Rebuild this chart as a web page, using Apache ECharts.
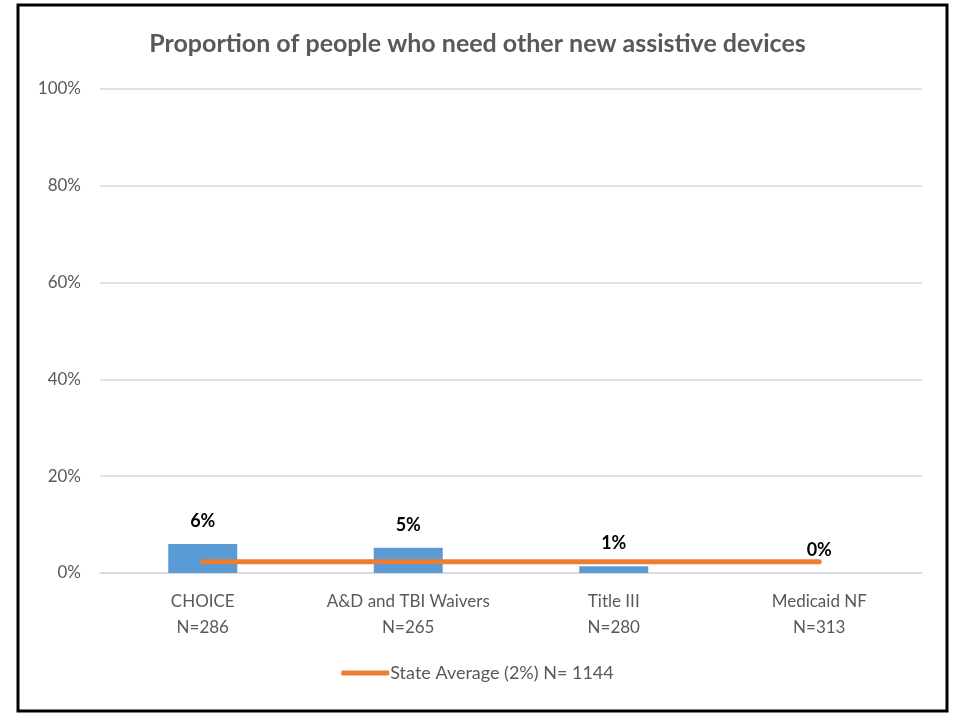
<!DOCTYPE html>
<html><head><meta charset="utf-8">
<script src="https://cdn.jsdelivr.net/npm/echarts@6/dist/echarts.min.js"></script>
<style>html,body{margin:0;padding:0;background:#fff}#c{width:955px;height:713px}</style>
</head><body><div id="c"></div>
<script>
const categories = ["CHOICE\nN=286", "A&D and TBI Waivers\nN=265", "Title III\nN=280", "Medicaid NF\nN=313"];
const programValues = [6.0, 5.2, 1.4, 0.0];
const stateAverage = [2.3, 2.3, 2.3, 2.3];
const stateAverageName = "State Average (2%) N= 1144";
const titleText = "Proportion of people who need other new assistive devices";
const font = "Lato";

const chart = echarts.init(document.getElementById('c'), null, {renderer: 'canvas'});
chart.setOption({
  backgroundColor: '#fff',
  animation: false,
  graphic: [{
    type: 'rect', shape: {x: 18, y: 5, width: 929, height: 706},
    style: {fill: 'none', stroke: '#000', lineWidth: 3}, z: 100
  }],
  title: {
    text: titleText, left: 'center', top: 26,
    textStyle: {fontFamily: font, fontSize: 25, fontWeight: 'bold', color: '#595959'}
  },
  legend: {
    bottom: 26, left: 'center',
    data: [{name: stateAverageName, icon: 'roundRect'}],
    itemWidth: 48, itemHeight: 5, itemGap: 0,
    textStyle: {fontFamily: font, fontSize: 18, color: '#595959', padding: [0,0,0,-4]}
  },
  grid: {left: 100, right: 33, top: 89, bottom: 140, containLabel: false},
  xAxis: {
    type: 'category', data: categories,
    axisLine: {show: true, lineStyle: {color: '#d9d9d9', width: 1.5}},
    axisTick: {show: false},
    axisLabel: {interval: 0, fontFamily: font, fontSize: 17, color: '#595959', lineHeight: 26, margin: 16}
  },
  yAxis: {
    type: 'value', min: 0, max: 100, interval: 20,
    axisLine: {show: false}, axisTick: {show: false},
    splitLine: {lineStyle: {color: '#d9d9d9', width: 1.5}},
    axisLabel: {fontFamily: font, fontSize: 17, color: '#595959', formatter: '{value}%', margin: 19}
  },
  series: [
    {
      type: 'bar', name: 'Programs', data: programValues, barWidth: 69,
      itemStyle: {color: '#5b9bd5'},
      label: {
        show: true, position: 'top', distance: 14,
        fontFamily: font, fontSize: 18, fontWeight: 'bold', color: '#000',
        formatter: p => Math.round(p.value) + '%'
      }, z: 2
    },
    {
      type: 'line', name: stateAverageName, data: stateAverage,
      symbol: 'none', lineStyle: {color: '#ed7d31', width: 5, cap: 'round'},
      itemStyle: {color: '#ed7d31'}, z: 3
    }
  ]
});
</script></body></html>
